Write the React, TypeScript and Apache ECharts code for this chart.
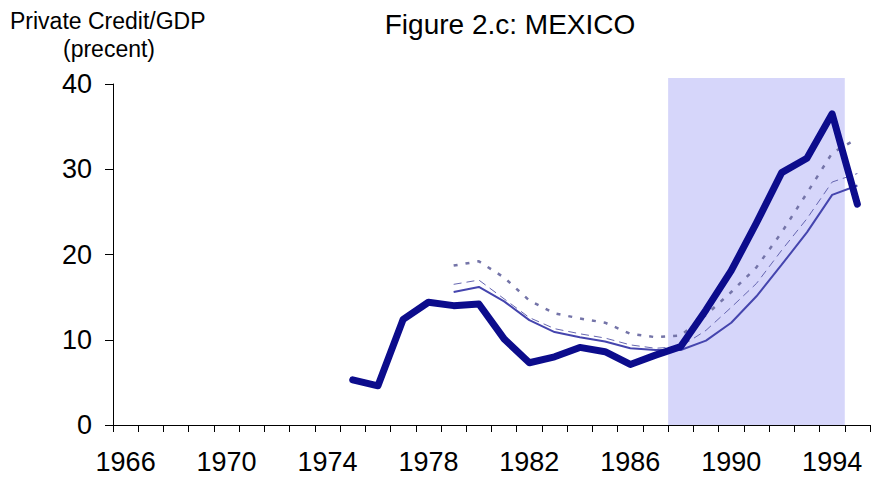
import React, { useEffect, useRef } from "react";
import * as echarts from "echarts";

const years: string[] = [];
for (let y = 1966; y <= 1995; y++) years.push(String(y));

// values 1966..1995 (null = no data)
const actual: (number | null)[] = [
  null, null, null, null, null, null, null, null, null,
  5.3, 4.6, 12.4, 14.4, 14.0, 14.2, 10.1, 7.3, 8.0, 9.1, 8.6, 7.1, 8.2,
  9.2, 13.5, 18.1, 23.7, 29.6, 31.3, 36.5, 25.9,
];
const trendSolid: (number | null)[] = [
  null, null, null, null, null, null, null, null, null, null, null, null, null,
  15.6, 16.2, 14.5, 12.3, 10.9, 10.3, 9.8, 9.0, 8.8,
  8.8, 9.9, 12.0, 15.1, 18.8, 22.6, 27.0, 28.1,
];
const trendDashed: (number | null)[] = [
  null, null, null, null, null, null, null, null, null, null, null, null, null,
  16.5, 17.0, 14.8, 12.6, 11.3, 10.7, 10.2, 9.4, 9.0,
  9.2, 11.1, 13.8, 16.6, 20.5, 24.2, 28.5, 29.5,
];
const trendDotted: (number | null)[] = [
  null, null, null, null, null, null, null, null, null, null, null, null, null,
  18.7, 19.2, 17.3, 14.6, 13.1, 12.5, 12.0, 10.7, 10.3,
  10.5, 12.9, 15.6, 18.5, 22.6, 27.2, 31.9, 33.6,
];
// shaded period: from start of 1988 to end of 1994
const shadeStart = 1988;
const shadeEnd = 1995;
const shadeTop = 40.7;
const yearSpan = { min: 1966, max: 1996 };
const yTicks = { min: 0, max: 40, interval: 10 };

const FONT = "'Liberation Sans', Arial, sans-serif";

export default function App() {
  const ref = useRef<HTMLDivElement>(null);
  useEffect(() => {
    if (!ref.current) return;
    const chart = echarts.init(ref.current, undefined, { renderer: "svg" });
    const mainTop = 84;
    const bottom = 57;
    const plotH = 482 - bottom - mainTop;
    const shadeGridTop = 482 - bottom - (plotH * shadeTop) / yTicks.max;
    chart.setOption({
      animation: false,
      backgroundColor: "#ffffff",
      title: {
        text: "Figure 2.c: MEXICO",
        left: 505,
        textAlign: "center",
        top: 5,
        textStyle: { fontFamily: FONT, fontSize: 28, fontWeight: "normal", color: "#000" },
      },
      graphic: [
        {
          type: "text",
          left: 10,
          top: 9,
          style: { text: "Private Credit/GDP", font: `23px ${FONT}`, fill: "#000" },
        },
        {
          type: "text",
          left: 63,
          top: 37,
          style: { text: "(precent)", font: `23px ${FONT}`, fill: "#000" },
        },
      ],
      grid: [
        { left: 113, right: 2, top: mainTop, bottom, containLabel: false },
        { left: 113, right: 2, top: shadeGridTop, bottom, containLabel: false },
      ],
      xAxis: [
        {
          type: "category",
          gridIndex: 0,
          data: years,
          boundaryGap: true,
          z: 10,
          axisLine: { show: true, lineStyle: { color: "#000", width: 1 } },
          axisTick: { show: true, interval: 0, length: 7, lineStyle: { color: "#000" } },
          axisLabel: {
            interval: 3,
            margin: 23,
            fontFamily: FONT,
            fontSize: 27,
            color: "#000",
          },
          splitLine: { show: false },
        },
        {
          type: "value",
          gridIndex: 1,
          min: yearSpan.min,
          max: yearSpan.max,
          show: false,
          splitLine: { show: false },
        },
      ],
      yAxis: [
        {
          type: "value",
          gridIndex: 0,
          min: yTicks.min,
          max: yTicks.max,
          interval: yTicks.interval,
          z: 10,
          axisLine: { show: true, lineStyle: { color: "#000", width: 1 } },
          axisTick: { show: true, length: 8, lineStyle: { color: "#000" } },
          axisLabel: { margin: 21, fontFamily: FONT, fontSize: 27, color: "#000" },
          splitLine: { show: false },
        },
        {
          type: "value",
          gridIndex: 1,
          min: 0,
          max: shadeTop,
          show: false,
          splitLine: { show: false },
        },
      ],
      series: [
        {
          type: "line",
          xAxisIndex: 1,
          yAxisIndex: 1,
          data: [],
          symbol: "none",
          silent: true,
          z: 1,
          markArea: {
            silent: true,
            itemStyle: { color: "#D6D6FA", opacity: 1 },
            data: [[{ coord: [shadeStart, 0] }, { coord: [shadeEnd, shadeTop] }]],
          },
        },
        {
          type: "line",
          data: trendDotted,
          symbol: "none",
          connectNulls: false,
          lineStyle: { color: "#7474A8", width: 2.5, type: [4, 8] },
          z: 3,
        },
        {
          type: "line",
          data: trendDashed,
          symbol: "none",
          lineStyle: { color: "#6666B0", width: 1, type: [8, 5] },
          z: 3,
        },
        {
          type: "line",
          data: trendSolid,
          symbol: "none",
          lineStyle: { color: "#4545AE", width: 2 },
          z: 4,
        },
        {
          type: "line",
          data: actual,
          symbol: "none",
          lineStyle: { color: "#0C0C8C", width: 7, cap: "round", join: "round" },
          z: 5,
        },
      ],
    });
    return () => chart.dispose();
  }, []);
  return <div ref={ref} style={{ width: 872, height: 482, position: "absolute", left: 0, top: 0 }} />;
}
